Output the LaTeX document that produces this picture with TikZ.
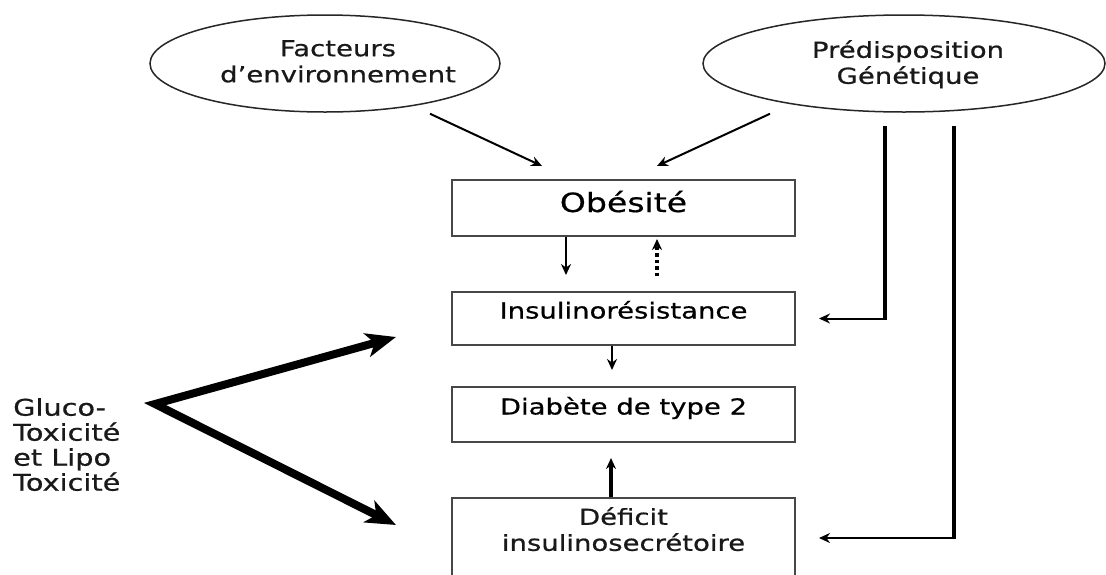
\documentclass[tikz,border=0pt]{standalone}
\usepackage{fontspec}
\setmainfont{DejaVu Sans}[FakeStretch=1.25,FakeBold=0.6]
\usetikzlibrary{shapes.geometric,arrows.meta,calc}
\begin{document}
\begin{tikzpicture}[x=1pt,y=-1pt,
  oval/.style={ellipse,draw=black!85,line width=1.5pt,inner sep=0pt},
  box/.style={rectangle,draw=black!72,line width=2pt,minimum width=343pt,inner sep=0pt,
              font=\fontsize{22}{26}\selectfont,text height=10pt,text depth=10pt},
  txt/.style={font=\fontsize{22}{26}\selectfont,text=black!90,align=center,inner sep=0pt},
  arr/.style={line width=2pt,-{Stealth[length=11pt,width=10pt]}},
  fat/.style={line width=8pt,line join=miter,
              {Stealth[length=30pt,width=24pt,inset=8pt]}-{Stealth[length=30pt,width=24pt,inset=8pt]}}
]
\useasboundingbox (0,0) rectangle (1106,574);
\fill[white] (0,0) rectangle (1106,574);

% ellipses
\node[oval,minimum width=350pt,minimum height=97pt] (env) at (325,63.5) {};
\node[txt,anchor=north] (envt) at (338,40) {Facteurs\\d’environnement};
\node[oval,minimum width=402pt,minimum height=97pt] (gen) at (904,63.5) {};
\node[txt,anchor=north] (gent) at (908,40) {Prédisposition\\Génétique};

% boxes
\node[box,minimum height=56pt,font=\fontsize{26.5}{30}\selectfont,text height=14pt,text depth=6pt] (obs) at (623.5,208) {Obésité};
\node[box,minimum height=53pt] (ins) at (623.5,318.5) {Insulinorésistance};
\node[box,minimum height=55pt] (dia) at (623.5,414.5) {Diabète de type 2};
\node[box,minimum height=120pt,anchor=north] (def) at (623.5,497) {};
\node[txt,anchor=north] (deft) at (623.5,507) {Déficit\\insulinosecrétoire};

% left text
\node[txt,align=left,anchor=north west,font=\fontsize{23}{25}\selectfont] (glu) at (13,398) {Gluco-\\Toxicité\\et Lipo\\Toxicité};

% arrows from ellipses to obesity
\draw[arr] ($(env.south)+(105,1)$) -- ($(obs.north west)+(91,-13)$);
\draw[arr] ($(gen.south)+(-134,1)$) -- ($(obs.north west)+(206,-13)$);

% vertical arrows between boxes
\draw[arr] ($(obs.south west)+(115,0)$) -- ($(ins.north west)+(115,-16)$);
\draw[arr,line width=3.5pt,dash pattern=on 3.5pt off 3pt] ($(ins.north west)+(206,-15)$) -- ($(obs.south west)+(206,2)$);
\draw[arr] ($(ins.south west)+(161,0)$) -- ($(dia.north west)+(161,-16)$);
\draw[arr,line width=3.5pt] ($(def.north west)+(160,0)$) -- ($(dia.south west)+(160,15)$);

% right connectors from genetic predisposition
\coordinate (g1) at ($(gen.south)+(-19,13)$);
\coordinate (g2) at ($(gen.south)+(50,13)$);
\coordinate (t1) at ($(ins.east)+(23,0)$);
\coordinate (t2) at ($(def.north east)+(23,41)$);
\coordinate (c1) at (g1 |- t1);
\coordinate (c2) at (g2 |- t2);
\draw[line width=4pt] (g1) -- ($(c1)+(0,1)$);
\draw[arr] (c1) -- (t1);
\draw[line width=4pt] (g2) -- ($(c2)+(0,1)$);
\draw[arr] (c2) -- (t2);

% thick arrows from gluco/lipo toxicity
\coordinate (v) at ($(glu.north west)+(142,6)$);
\draw[fat] ($(ins.west)+(-55,18.5)$) -- (v) -- ($(def.north west)+(-55,28)$);
\end{tikzpicture}
\end{document}
